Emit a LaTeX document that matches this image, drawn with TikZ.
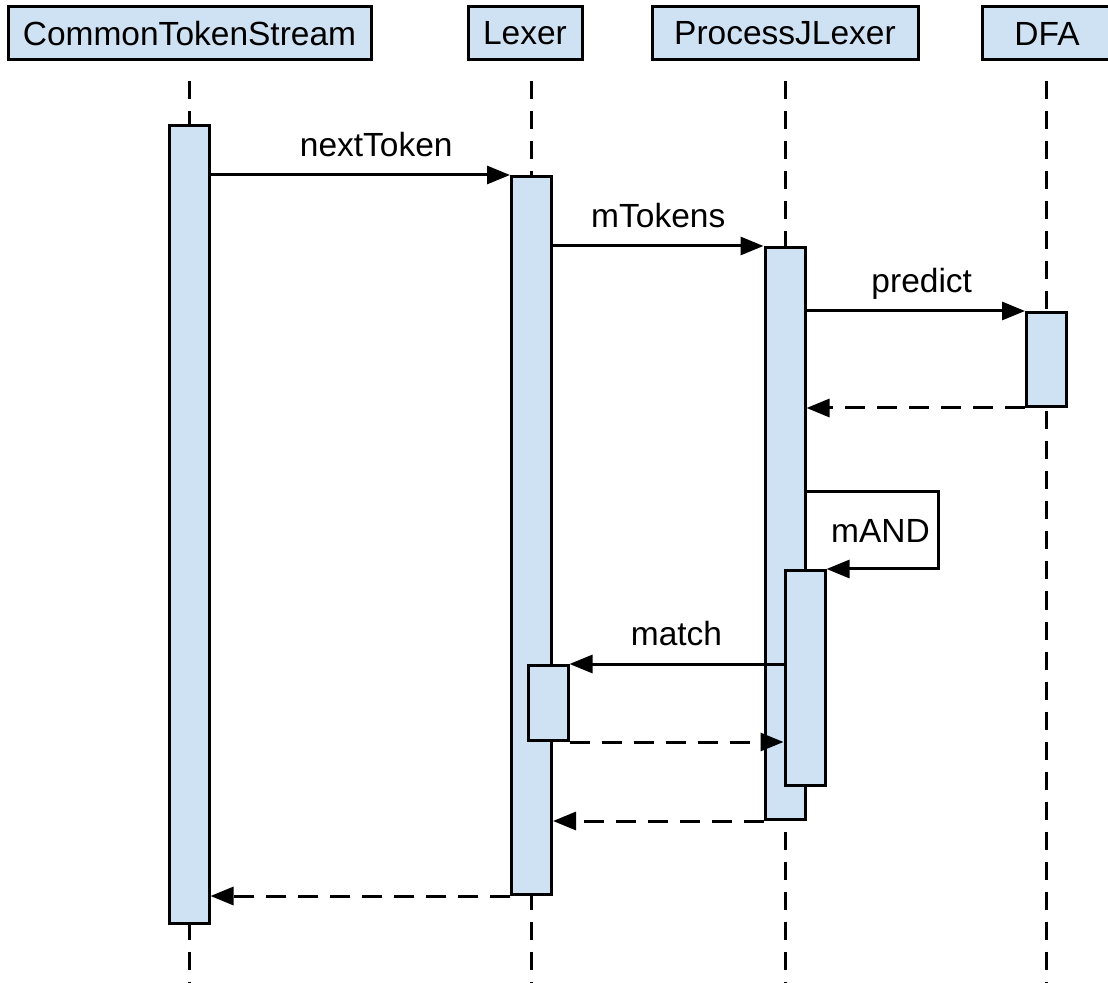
\documentclass[tikz,border=0pt]{standalone}
\usepackage{fontspec}
\setmainfont{Liberation Sans}
\usetikzlibrary{arrows.meta}
\definecolor{actblue}{RGB}{207,226,243}

\begin{document}
\begin{tikzpicture}[x=0.5pt,y=-0.5pt,line width=1.5pt,
  every node/.style={font=\fontsize{16.75}{20}\selectfont},
  head node/.style={rectangle,draw,fill=actblue,minimum height=26.5pt,inner sep=0pt},
  act node/.style={rectangle,draw,fill=actblue,minimum width=20pt,inner sep=0pt,anchor=north},
  life/.style={dash pattern=on 9pt off 6pt,shorten <=10pt},
  call/.style={-{Triangle[length=11.5pt,width=9pt]}},
  ret/.style={call,dash pattern=on 10pt off 6pt},
  msg/.style={anchor=base,yshift=9pt}]
  \useasboundingbox (0,0) rectangle (1108,983);
  \coordinate (self) at (938,492);
  % participants
  \node[head node,minimum width=181.5pt] (cts) at (189.5,33.5) {CommonTokenStream};
  \node[head node,minimum width=57pt] (lex) at (525,33.5) {Lexer};
  \node[head node,minimum width=133pt] (pjl) at (785,33.5) {ProcessJLexer};
  \node[head node,minimum width=65pt] (dfa) at (1047,33.5) {DFA};
  % lifelines
  \foreach \p/\x in {cts/189,lex/531.5,pjl/785,dfa/1046.5}
    \draw[life] (\x,0 |- \p.south) -- (\x,983);
  % activations
  \node[act node,minimum height=399pt] (cts act) at (189,124) {};
  \node[act node,minimum height=359pt] (lex act) at (531.5,175) {};
  \node[act node,minimum height=286pt] (pjl act) at (785,246) {};
  \node[act node,minimum height=47pt] (dfa act) at (1046.5,311) {};
  \node[act node,minimum height=107.5pt] (mand act) at (805,569) {};
  \node[act node,minimum height=37.5pt] (lexm act) at (548,664) {};
  % messages
  \path
     (cts act.east |- lex act.north) edge[call] node[msg,xshift=8pt]{nextToken} (lex act.north west)
     (lex act.east |- pjl act.north) edge[call] node[msg]{mTokens} (pjl act.north west)
     (pjl act.east |- dfa act.north) edge[call] node[msg,xshift=3pt]{predict} (dfa act.north west)
     (dfa act.south west) edge[ret] (pjl act.east |- dfa act.south)
     (mand act.west |- lexm act.north) edge[call] node[msg]{match} (lexm act.north east)
     (lexm act.south east) edge[ret] (mand act.west |- lexm act.south)
     (pjl act.south west) edge[ret] (lex act.east |- pjl act.south)
     (lex act.south west) edge[ret] (cts act.east |- lex act.south);
  \draw[call] (pjl act.east |- self) -- (self) |- node[pos=0.25,left]{mAND} (mand act.north east);
\end{tikzpicture}
\end{document}
